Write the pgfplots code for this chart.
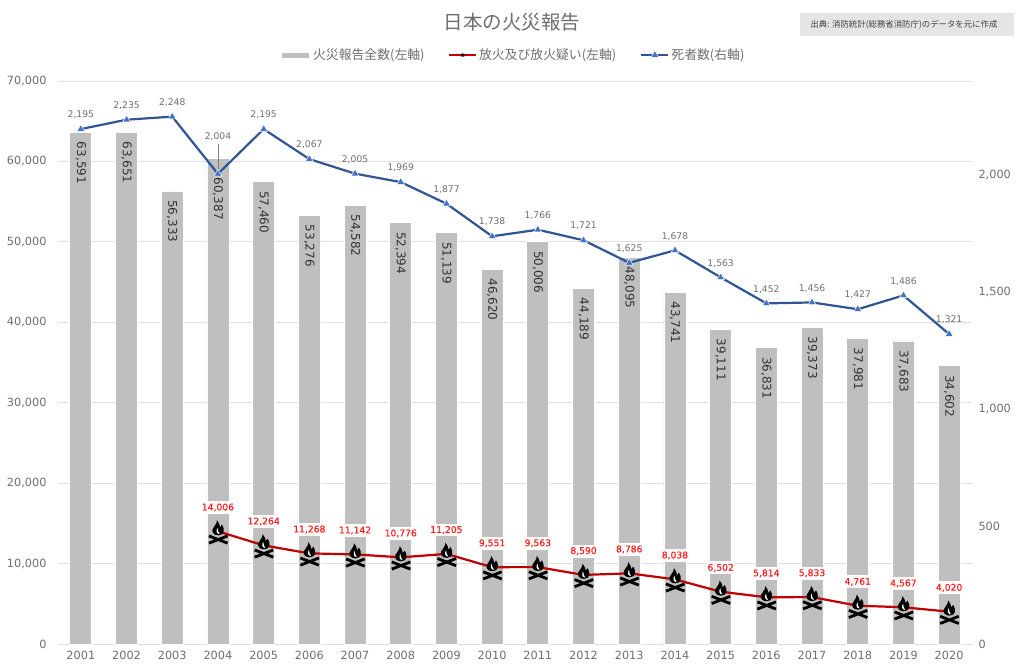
\documentclass[border=0pt]{standalone}
\usepackage{fontspec}
\usepackage{pgfplots}
\usepackage{pgfplotstable}
\pgfplotsset{compat=1.18}
\setmainfont{DejaVu Sans}
\newfontfamily\cjk{Noto Sans CJK JP}
\newfontfamily\labfont[FakeBold=0.6]{DejaVu Sans}

\definecolor{barg}{HTML}{BFBFBF}
\definecolor{gridg}{HTML}{E0E0E0}
\definecolor{txtg}{HTML}{6E6E6E}
\definecolor{lineb}{HTML}{2F5597}
\definecolor{markb}{HTML}{4472C4}
\definecolor{liner}{HTML}{C00000}
\definecolor{labr}{HTML}{FF2020}

% campfire icon, sizes in px around the data point
\pgfdeclareplotmark{campfire}{%
  \pgfsetcolor{black}%
  \pgfsetlinewidth{2.8pt}%
  \pgfsetbuttcap
  \pgfpathmoveto{\pgfpoint{-9pt}{-11.8pt}}\pgfpathlineto{\pgfpoint{9.6pt}{-4.6pt}}%
  \pgfpathmoveto{\pgfpoint{-9pt}{-4.6pt}}\pgfpathlineto{\pgfpoint{9.6pt}{-11.8pt}}%
  \pgfusepathqstroke
  % flame
  \pgfpathmoveto{\pgfpoint{0.4pt}{-4pt}}%
  \pgfpathcurveto{\pgfpoint{-4.4pt}{-4pt}}{\pgfpoint{-6.2pt}{-0.8pt}}{\pgfpoint{-5.4pt}{2.2pt}}%
  \pgfpathcurveto{\pgfpoint{-4.4pt}{5.4pt}}{\pgfpoint{-1.2pt}{6.4pt}}{\pgfpoint{-1pt}{11.2pt}}%
  \pgfpathcurveto{\pgfpoint{1.6pt}{8.8pt}}{\pgfpoint{1.4pt}{6.4pt}}{\pgfpoint{2pt}{4.2pt}}%
  \pgfpathcurveto{\pgfpoint{3pt}{5pt}}{\pgfpoint{3.6pt}{5.6pt}}{\pgfpoint{4pt}{6.8pt}}%
  \pgfpathcurveto{\pgfpoint{7pt}{2.6pt}}{\pgfpoint{6.8pt}{-4pt}}{\pgfpoint{0.4pt}{-4pt}}%
  \pgfpathclose
  \pgfusepathqfill
  % light sliver inside the flame
  \pgfsetcolor{white}%
  \pgfpathmoveto{\pgfpoint{1.8pt}{-2.8pt}}%
  \pgfpathcurveto{\pgfpoint{-1.8pt}{-2.4pt}}{\pgfpoint{-2pt}{0.8pt}}{\pgfpoint{-0.4pt}{3.6pt}}%
  \pgfpathcurveto{\pgfpoint{-0.4pt}{1.2pt}}{\pgfpoint{0.6pt}{-1pt}}{\pgfpoint{1.8pt}{-2.8pt}}%
  \pgfpathclose
  \pgfusepathqfill
}

\pgfplotstableread{
year total off
2001 63591 9
2002 63651 9
2003 56333 9
2004 60387 19
2005 57460 9
2006 53276 9
2007 54582 9
2008 52394 9
2009 51139 9
2010 46620 9
2011 50006 9
2012 44189 9
2013 48095 9
2014 43741 9
2015 39111 9
2016 36831 9
2017 39373 9
2018 37981 9
2019 37683 9
2020 34602 9
}\totaltable

\pgfplotstableread{
year arson
2004 14006
2005 12264
2006 11268
2007 11142
2008 10776
2009 11205
2010 9551
2011 9563
2012 8590
2013 8786
2014 8038
2015 6502
2016 5814
2017 5833
2018 4761
2019 4567
2020 4020
}\arsontable

\pgfplotstableread{
year deaths off
2001 2195 9
2002 2235 9
2003 2248 9
2004 2004 32
2005 2195 9
2006 2067 9
2007 2005 9
2008 1969 9
2009 1877 9
2010 1738 9
2011 1766 9
2012 1721 9
2013 1625 9
2014 1678 9
2015 1563 9
2016 1452 9
2017 1456 9
2018 1427 9
2019 1486 9
2020 1321 9
}\deathtable

\pgfplotsset{
  /pgf/number format/assume math mode=true,
  /pgf/number format/fixed,
  /pgf/number format/precision=0,
  /pgf/number format/1000 sep={,},
  legend image code/.code={%
    \draw[mark repeat=2,mark phase=2,#1] plot coordinates {(0pt,0pt)(13.5pt,0pt)(27pt,0pt)};},
  base/.style={
    scale only axis, width=914pt, height=563pt,
    at={(0pt,0pt)}, anchor=south west,
    xmin=2000.5, xmax=2020.5, ymin=0,
    scaled y ticks=false,
    tick style={draw=none},
    tick label style={font=\fontsize{11.3}{13}\selectfont, text=txtg},
  },
}

\begin{document}
\begin{tikzpicture}[x=1pt,y=1pt]
\begin{axis}[base,
    ymax=70000, ytick distance=10000,
    xtick={2001,...,2020}, x tick label style={/pgf/number format/1000 sep={}},
    axis x line*=bottom, axis y line*=left,
    x axis line style={-, draw=gridg, line width=1pt},
    y axis line style={draw=none},
    ymajorgrids, major grid style={gridg, line width=1pt},
    yticklabel style={xshift=-8pt},
    xticklabel style={yshift=-3.5pt},
]
\addplot[ybar, bar width=22pt, fill=barg, draw=white, line width=0.8pt,
    visualization depends on={\thisrow{off} \as \laboff},
    nodes near coords,
    every node near coord/.append style={rotate=-90, anchor=west, inner sep=0pt,
      xshift=\laboff pt, font=\fontsize{12}{14}\selectfont, text=black!80},
] table[x=year, y=total] {\totaltable};
\addplot[liner, line width=2.2pt, mark=campfire,
    nodes near coords,
    every node near coord/.append style={fill=white, inner xsep=1pt, inner ysep=2.5pt,
      yshift=16pt, font=\labfont\fontsize{9.2}{10}\selectfont, text=labr},
] table[x=year, y=arson] {\arsontable};
\end{axis}
\begin{axis}[base,
    ymax=2400, ytick={0,500,...,2000},
    hide x axis,
    axis y line*=right,
    y axis line style={draw=none},
    yticklabel style={xshift=3pt},
    legend columns=3,
    legend style={at={(0.4975,1.046)}, anchor=center, draw=none, fill=none,
      font=\cjk\fontsize{12.85}{14}\selectfont, text=txtg,
      /tikz/every even column/.append style={column sep=22pt}},
]
\addlegendimage{barg, line width=5pt}
\addlegendentry{火災報告全数(左軸)}
\addlegendimage{liner, line width=1.5pt, mark=star, mark size=2pt, mark options={black, line width=0.8pt}}
\addlegendentry{放火及び放火疑い(左軸)}
% leader line of the 2004 label
\addplot[forget plot, gray, line width=0.5pt] coordinates {(2004,2004) (2004,2131)};
\addplot[lineb, line width=2.2pt, mark=triangle*, mark size=4.5pt,
    mark options={fill=markb, draw=white, line width=0.5pt, solid},
    visualization depends on={\thisrow{off} \as \laboff},
    nodes near coords,
    every node near coord/.append style={inner sep=1pt, yshift=\laboff pt,
      font=\fontsize{9.2}{11}\selectfont, text=txtg},
] table[x=year, y=deaths] {\deathtable};
\addlegendentry{死者数(右軸)}
\end{axis}
\node[font=\cjk\fontsize{19.5}{22}\selectfont, text=txtg] at (454,622) {日本の火災報告};
\fill[black!10] (742,608) rectangle (956,631);
\node[font=\cjk\fontsize{8.4}{10}\selectfont, text=black!75] at (846,619.5) {出典: 消防統計(総務省消防庁)のデータを元に作成};
\pgfresetboundingbox
\useasboundingbox (-58,-23) rectangle (966,644);
\end{tikzpicture}
\end{document}
